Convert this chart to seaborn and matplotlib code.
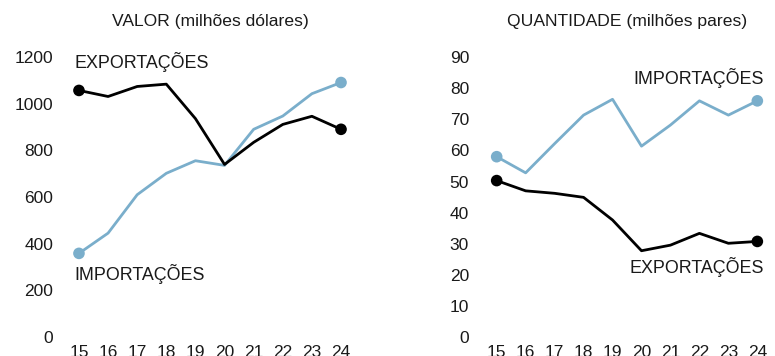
import pandas as pd
import seaborn as sns
import matplotlib.pyplot as plt

# years (two-digit labels)
anos = [15, 16, 17, 18, 19, 20, 21, 22, 23, 24]

# VALOR (milhões dólares)
valor_export = [1058, 1032, 1075, 1085, 937, 740, 835, 912, 947, 891]
valor_import = [358, 445, 610, 702, 756, 736, 891, 948, 1044, 1092]

# QUANTIDADE (milhões pares)
qtd_export = [50.3, 47.0, 46.2, 44.9, 37.6, 27.7, 29.5, 33.3, 30.1, 30.7]
qtd_import = [58.0, 52.8, 62.2, 71.4, 76.5, 61.4, 68.2, 76.0, 71.4, 76.0]

PRETO = "#000000"
AZUL = "#7aaecb"
TEXTO = "#1a1a1a"

sns.set_theme(style="white")
plt.rcParams['font.family'] = ['Liberation Sans', 'DejaVu Sans']

fig = plt.figure(figsize=(7.75, 3.56), dpi=100)
ax1 = fig.add_axes([0.0831, 0.0542, 0.3757, 0.850])
ax2 = fig.add_axes([0.6222, 0.0542, 0.3737, 0.850])


def painel(ax, exp, imp, titulo, ylim, yticks, pad):
    df = pd.DataFrame({"ano": anos, "exp": exp, "imp": imp})
    sns.lineplot(data=df, x="ano", y="imp", color=AZUL, lw=2, ax=ax)
    sns.lineplot(data=df, x="ano", y="exp", color=PRETO, lw=2, ax=ax)
    # dots only at first and last year
    ends = df.iloc[[0, -1]]
    sns.scatterplot(data=ends, x="ano", y="imp", color=AZUL, s=70,
                    edgecolor="none", ax=ax, zorder=5)
    sns.scatterplot(data=ends, x="ano", y="exp", color=PRETO, s=70,
                    edgecolor="none", ax=ax, zorder=5)
    ax.set_xlim(14.5, 24.5)
    ax.set_ylim(*ylim)
    ax.set_xticks(anos)
    ax.set_xticklabels([str(a) for a in anos])
    ax.set_yticks(yticks)
    ax.tick_params(axis="both", length=0, labelsize=12.5, colors=TEXTO)
    ax.tick_params(axis="y", pad=pad)
    ax.tick_params(axis="x", pad=6)
    ax.set_xlabel("")
    ax.set_ylabel("")
    ax.set_title(titulo, fontsize=12.6, color=TEXTO, pad=6)
    sns.despine(ax=ax, left=True, bottom=True)


painel(ax1, valor_export, valor_import, "VALOR (milhões dólares)",
       (0, 1300), range(0, 1201, 200), 8)
painel(ax2, qtd_export, qtd_import, "QUANTIDADE (milhões pares)",
       (0, 97.5), range(0, 91, 10), 9.5)

rot = dict(fontsize=12.9, va="center", color=TEXTO)
ax1.text(14.83, 1180, "EXPORTAÇÕES", ha="left", **rot)
ax1.text(14.83, 269, "IMPORTAÇÕES", ha="left", **rot)
ax2.text(24.23, 83.4, "IMPORTAÇÕES", ha="right", **rot)
ax2.text(24.23, 22.5, "EXPORTAÇÕES", ha="right", **rot)

fig.savefig("out.png", dpi=100)
